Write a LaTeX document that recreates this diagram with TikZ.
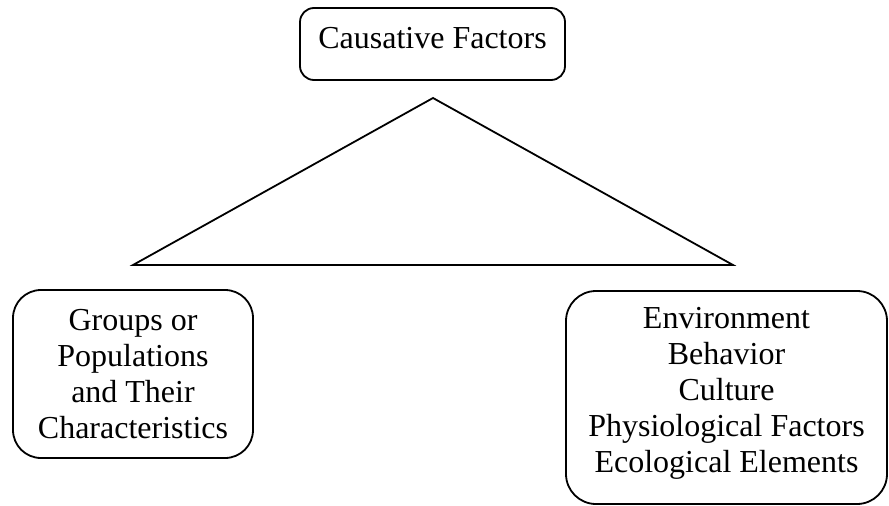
\documentclass[tikz,border=0pt]{standalone}
\usepackage{fontspec}
\setmainfont{Liberation Serif}
\usetikzlibrary{positioning,calc}

\begin{document}
\begin{tikzpicture}[x=1pt, y=-1pt,
    factor/.style={draw, line width=1.8pt, align=center, inner sep=0pt,
      font=\fontsize{32}{36}\selectfont}]
  \useasboundingbox (0,0) rectangle (889,506);

  % top box
  \node[factor, rounded corners=14pt, minimum width=265pt, minimum height=72pt,
    text height=22pt, text depth=14pt] (cause) at (432.5,44) {Causative Factors};

  % lower boxes
  \node[factor, rounded corners=28pt, minimum width=240pt, minimum height=168pt]
    (groups) at (133,374) {Groups or\\Populations\\and Their\\Characteristics};
  \node[factor, rounded corners=30pt, minimum width=321pt, minimum height=213pt,
    text depth=15pt]
    (envir) at (726.5,397.5) {Environment\\Behavior\\Culture\\Physiological Factors\\Ecological Elements};

  % triangle under the top box
  \coordinate (apex) at (433,98);
  \coordinate (lcorner) at (133,265);
  \coordinate (rcorner) at (733,265);
  \draw[line width=1.8pt, line join=miter] (apex) -- (rcorner) -- (lcorner) -- cycle;
\end{tikzpicture}
\end{document}
